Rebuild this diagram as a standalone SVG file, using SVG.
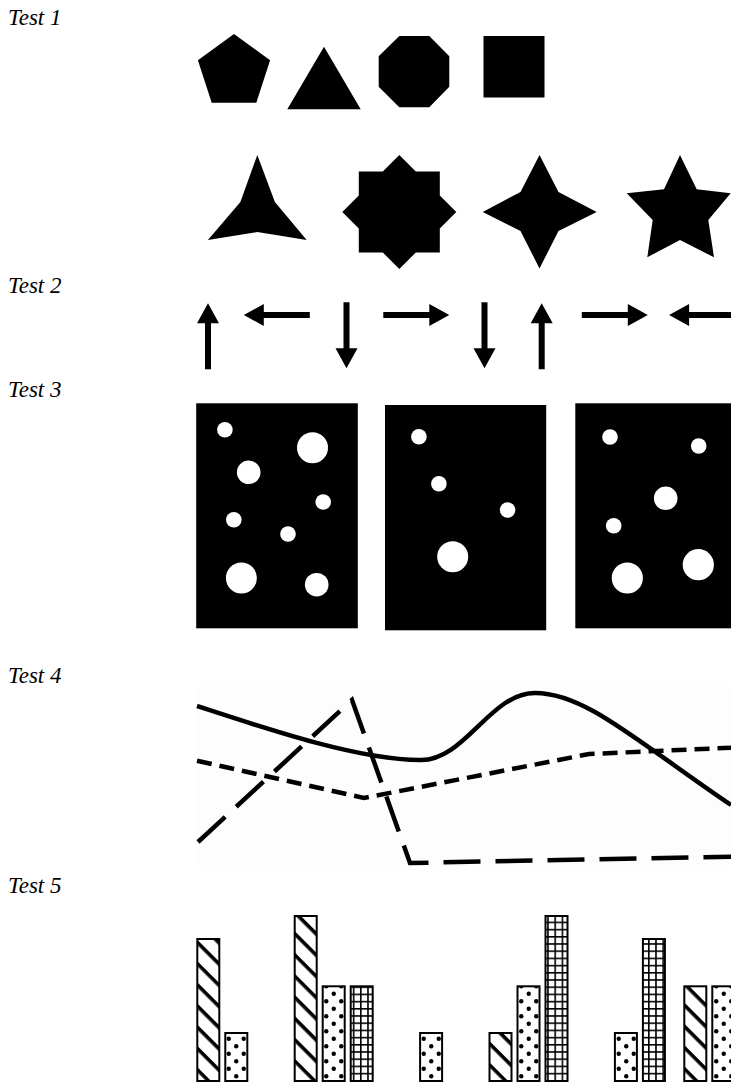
<svg xmlns="http://www.w3.org/2000/svg" width="731" height="1084" viewBox="0 0 731 1084">
<style>
.lbl{font-family:"Liberation Serif","Times New Roman",serif;font-style:italic;font-size:23px;fill:#000}
.shp{fill:#000}
.hole{fill:#fff}
.bar{stroke:#000;stroke-width:2}
.ln{fill:none;stroke:#000;stroke-width:4.5}
</style>
<defs>
<path id="arrow" d="M0,-3 H46 V-11 L66,0 L46,11 V3 H0 Z" fill="#000"/>
<pattern id="hatch" patternUnits="userSpaceOnUse" width="15" height="15" patternTransform="rotate(45)">
<rect width="15" height="15" fill="#fff"/><rect width="15" height="3.6" fill="#000"/>
</pattern>
<pattern id="dots" patternUnits="userSpaceOnUse" width="15" height="15">
<rect width="15" height="15" fill="#fff"/><circle cx="3.75" cy="3.75" r="2.2" fill="#000"/><circle cx="11.25" cy="11.25" r="2.2" fill="#000"/>
</pattern>
<pattern id="grid" patternUnits="userSpaceOnUse" width="7.2" height="7.2">
<rect width="7.2" height="7.2" fill="#fff"/><path d="M0,0.8 H7.2 M0.8,0 V7.2" stroke="#000" stroke-width="1.6"/>
</pattern>
</defs>
<rect width="731" height="1084" fill="#fff"/>

<g id="labels">
<text class="lbl" x="8" y="25">Test 1</text>
<text class="lbl" x="8" y="293">Test 2</text>
<text class="lbl" x="8" y="397">Test 3</text>
<text class="lbl" x="8" y="683">Test 4</text>
<text class="lbl" x="8" y="893">Test 5</text>
</g>

<g id="test1">
<polygon id="pentagon" class="shp" points="234,34 270.1,60.3 256.3,102.7 211.7,102.7 197.9,60.3"/>
<polygon id="triangle" class="shp" points="324,46.7 360.7,109.3 287.3,109.3"/>
<polygon id="octagon" class="shp" points="399.3,36 429.3,36 449.3,56.3 449.3,86.7 429.3,107.3 399.3,107.3 378.7,86.7 378.7,56.3"/>
<rect id="square" class="shp" x="483.5" y="36" width="61" height="61.5"/>
<polygon id="star3" class="shp" points="257.3,155 274.9,202.1 306.7,240 257.3,232.1 207.9,240 240.4,202.1"/>
<polygon id="star8" class="shp" points="399.3,155 415.8,171.5 439.8,171.5 439.8,195.5 456.3,212 439.8,228.5 439.8,252.5 415.8,252.5 399.3,269 382.8,252.5 358.8,252.5 358.8,228.5 342.3,212 358.8,195.5 358.8,171.5 382.8,171.5"/>
<polygon id="star4" class="shp" points="539.5,155 558.5,192 596.7,212 558.5,231 539.5,268.5 520.5,231 482.7,212 520.5,192"/>
<polygon id="star5" class="shp" points="680,155 696.7,189.3 730.7,193.3 708.3,220 714,257.3 680,240 647.3,257.3 652.7,220 626.7,193.3 664,189.3"/>
</g>

<g id="test2">
<use href="#arrow" transform="translate(208,369.3) rotate(-90)"/>
<use href="#arrow" transform="translate(309.8,315) rotate(180)"/>
<use href="#arrow" transform="translate(346.5,302.3) rotate(90)"/>
<use href="#arrow" transform="translate(383.3,315)"/>
<use href="#arrow" transform="translate(484.5,302.3) rotate(90)"/>
<use href="#arrow" transform="translate(541.7,369.3) rotate(-90)"/>
<use href="#arrow" transform="translate(581.8,315)"/>
<use href="#arrow" transform="translate(735.1,315) rotate(180)"/>
</g>

<g id="test3">
<g id="panel1">
<rect class="shp" x="196.2" y="403.3" width="161.6" height="225"/>
<circle class="hole" cx="224.9" cy="429.7" r="7.8"/>
<circle class="hole" cx="312.5" cy="447.7" r="15.5"/>
<circle class="hole" cx="248.7" cy="472.3" r="11.8"/>
<circle class="hole" cx="323.2" cy="502" r="7.8"/>
<circle class="hole" cx="233.8" cy="519.7" r="7.8"/>
<circle class="hole" cx="288" cy="534" r="7.8"/>
<circle class="hole" cx="241.4" cy="578" r="15.5"/>
<circle class="hole" cx="316.7" cy="584.7" r="11.8"/>
</g>
<g id="panel2">
<rect class="shp" x="385" y="405" width="161.2" height="225.3"/>
<circle class="hole" cx="418.9" cy="436.7" r="7.8"/>
<circle class="hole" cx="438.9" cy="483.7" r="7.8"/>
<circle class="hole" cx="507.6" cy="510" r="7.8"/>
<circle class="hole" cx="452.7" cy="556.7" r="15.5"/>
</g>
<g id="panel3">
<rect class="shp" x="575.3" y="403.3" width="160" height="225"/>
<circle class="hole" cx="610" cy="437" r="7.8"/>
<circle class="hole" cx="698.7" cy="446" r="7.8"/>
<circle class="hole" cx="665.7" cy="498.3" r="11.8"/>
<circle class="hole" cx="613.7" cy="525.7" r="7.8"/>
<circle class="hole" cx="627.3" cy="578" r="15.6"/>
<circle class="hole" cx="698.3" cy="564.7" r="15.6"/>
</g>
</g>

<g id="test4">
<rect x="196" y="686" width="535" height="180" fill="#fdfdfd"/>
<path class="ln" d="M197,706 C270,730 360,760 420,760 C465,761 490,693 535,693 C585,693 635,740 731,805"/>
<path class="ln" d="M197,760.7 L364,798 L589,754 L731,747.7" stroke-dasharray="15 8"/>
<path class="ln" d="M198,842 L352,700 L410,863 L731,856.7" stroke-width="5" stroke-dasharray="37 15"/>
</g>

<g id="test5">
<rect class="bar" x="197.3" y="939" width="22" height="142" fill="url(#hatch)"/>
<rect class="bar" x="225.3" y="1033" width="22" height="48" fill="url(#dots)"/>
<rect class="bar" x="294.7" y="916" width="22" height="165" fill="url(#hatch)"/>
<rect class="bar" x="322.7" y="986.3" width="22" height="94.7" fill="url(#dots)"/>
<rect class="bar" x="350.7" y="986.3" width="22" height="94.7" fill="url(#grid)"/>
<rect class="bar" x="420.1" y="1033" width="22" height="48" fill="url(#dots)"/>
<rect class="bar" x="489.5" y="1033" width="22" height="48" fill="url(#hatch)"/>
<rect class="bar" x="517.5" y="986.3" width="22" height="94.7" fill="url(#dots)"/>
<rect class="bar" x="545.5" y="916" width="22" height="165" fill="url(#grid)"/>
<rect class="bar" x="614.9" y="1033" width="22" height="48" fill="url(#dots)"/>
<rect class="bar" x="642.9" y="939" width="22" height="142" fill="url(#grid)"/>
<rect class="bar" x="684.3" y="986.3" width="22" height="94.7" fill="url(#hatch)"/>
<rect class="bar" x="712.3" y="986.3" width="22" height="94.7" fill="url(#dots)"/>
</g>
</svg>
